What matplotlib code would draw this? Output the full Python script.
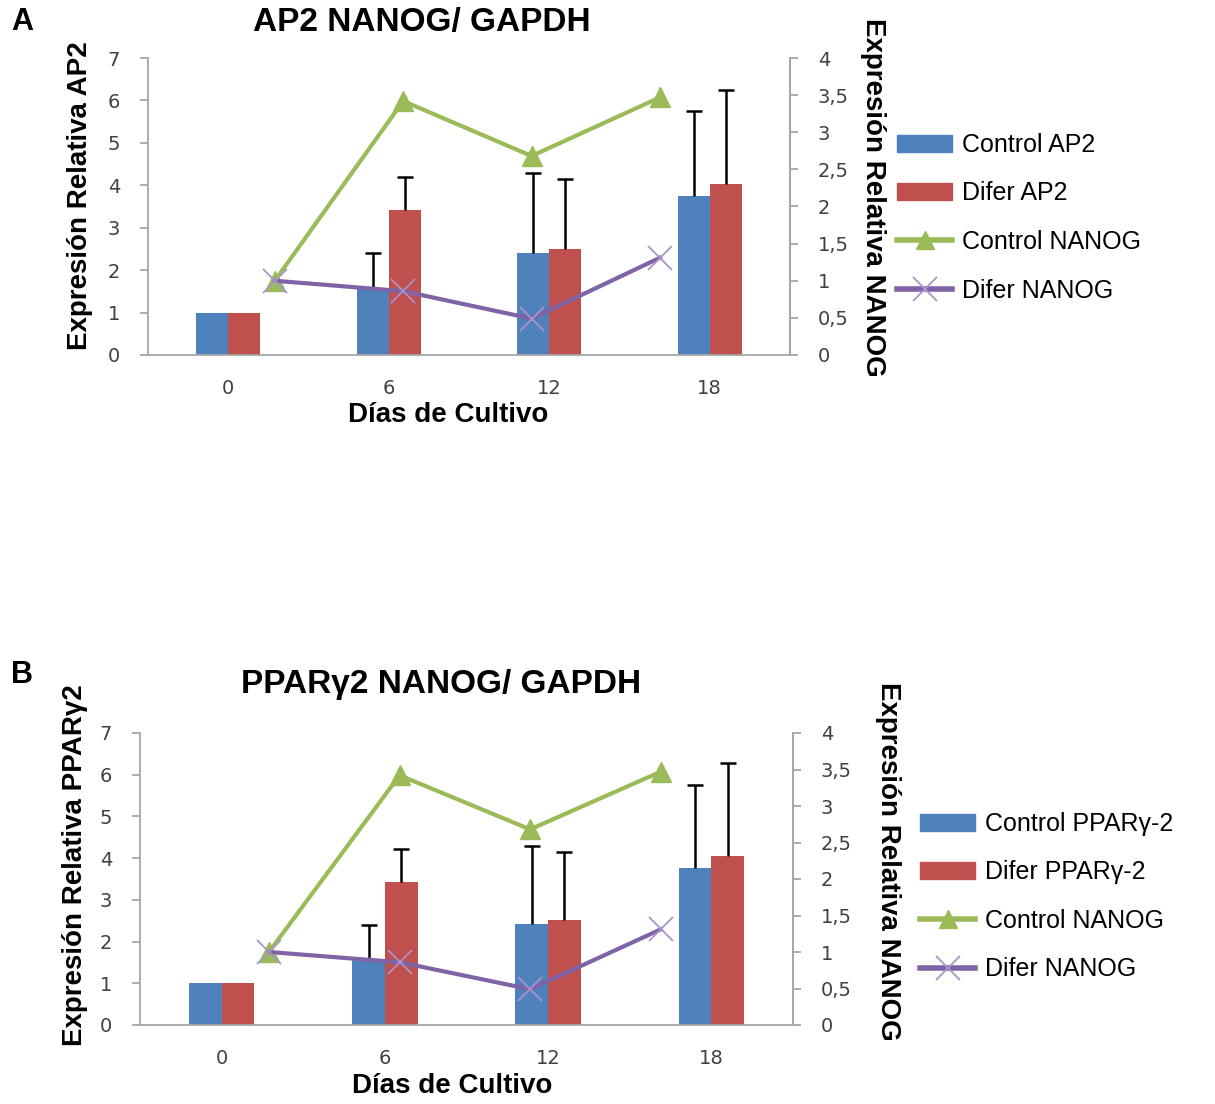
import matplotlib
matplotlib.use("Agg")
import matplotlib.pyplot as plt
import numpy as np
from matplotlib.patches import Patch
from matplotlib.lines import Line2D

# data
dias = ["0", "6", "12", "18"]

ctrl_ap2 = [1.0, 1.55, 2.4, 3.75]
ctrl_ap2_err = [0.0, 0.85, 1.88, 2.0]
difer_ap2 = [1.0, 3.42, 2.5, 4.03]
difer_ap2_err = [0.0, 0.78, 1.64, 2.22]

ctrl_ppar = [1.0, 1.55, 2.42, 3.76]
ctrl_ppar_err = [0.0, 0.85, 1.87, 1.99]
difer_ppar = [1.0, 3.44, 2.52, 4.05]
difer_ppar_err = [0.0, 0.78, 1.63, 2.23]

ctrl_nanog = [1.0, 3.42, 2.68, 3.47]
difer_nanog = [1.0, 0.86, 0.49, 1.31]

blue = "#4f81bd"
red = "#c0504d"
green = "#9bbb59"
purple = "#7f63a6"
xpurple = "#a995cc"
spine_col = "#a6a6a6"
tick_col = "#404040"

plt.rcParams["font.family"] = ["Liberation Sans", "DejaVu Sans"]

fig = plt.figure(figsize=(12.15, 11.04), dpi=100)


def upper_err(ax, xs, vals, errs):
    # only the upper half of the error bar, cap on top
    xs = np.asarray(xs)
    vals = np.asarray(vals)
    errs = np.asarray(errs)
    keep = errs > 0
    ax.vlines(xs[keep], vals[keep], vals[keep] + errs[keep], color="black",
              lw=1.8, zorder=3)
    ax.plot(xs[keep], vals[keep] + errs[keep], ls="none", marker="_", ms=12,
            mew=1.8, color="black", zorder=3)


def draw_panel(rect, c_vals, c_err, d_vals, d_err, left_lab, legend_names,
               legend_xy, lab_coords):
    ax = fig.add_axes(rect)
    x = np.arange(len(dias))
    w = 0.2
    ax.bar(x - w / 2, c_vals, w, color=blue, zorder=2)
    ax.bar(x + w / 2, d_vals, w, color=red, zorder=2)
    upper_err(ax, x - w / 2, c_vals, c_err)
    upper_err(ax, x + w / 2, d_vals, d_err)
    ax.set_xlim(-0.5, 3.5)
    ax.set_ylim(0, 7)
    ax.set_yticks(range(8))
    ax.set_xticks(x)
    ax.set_xticklabels(dias)

    ax.spines["top"].set_visible(False)
    for s in ["left", "bottom", "right"]:
        ax.spines[s].set_color(spine_col)
        ax.spines[s].set_linewidth(1.3)
    ax.tick_params(axis="y", length=6, width=1.3, color=spine_col, pad=14,
                   labelsize=14, labelcolor=tick_col, direction="out")
    ax.tick_params(axis="x", length=0, pad=17, labelsize=14, labelcolor=tick_col)
    for t in ax.get_xticklabels() + ax.get_yticklabels():
        t.set_family("DejaVu Sans")

    ax2 = ax.twinx()
    ax2.set_ylim(0, 4)
    ax2.set_yticks([0, 0.5, 1, 1.5, 2, 2.5, 3, 3.5, 4])
    ax2.set_yticklabels(["0", "0,5", "1", "1,5", "2", "2,5", "3", "3,5", "4"],
                        family="DejaVu Sans")
    for s in ["top", "left", "bottom"]:
        ax2.spines[s].set_visible(False)
    ax2.spines["right"].set_color(spine_col)
    ax2.spines["right"].set_linewidth(1.3)
    ax2.tick_params(axis="y", length=6, width=1.3, color=spine_col, pad=14,
                    labelsize=14, labelcolor=tick_col, direction="out")

    # lines sit on their own spacing, shifted against the bar groups
    line_x = np.arange(4) * 0.8 + 0.29
    ax2.plot(line_x, ctrl_nanog, color=green, lw=3, marker="^", ms=14,
             mec=green, zorder=4)
    ax2.plot(line_x, difer_nanog, color=purple, lw=3, marker="x", ms=17,
             mec=xpurple, mew=1.3, zorder=4)

    ax.set_xlabel("Días de Cultivo", fontsize=20, fontweight="bold",
                  va="center", ha="center")
    ax.xaxis.set_label_coords(*lab_coords[0])
    ax.set_ylabel(left_lab, fontsize=20, fontweight="bold", va="center",
                  ha="center")
    ax.yaxis.set_label_coords(*lab_coords[1])
    ax2.set_ylabel("Expresión Relativa NANOG", fontsize=20, fontweight="bold",
                   rotation=270, va="center", ha="center")
    ax2.yaxis.set_label_coords(*lab_coords[2])

    handles = [
        Patch(color=blue),
        Patch(color=red),
        Line2D([], [], color=green, lw=4, marker="^", ms=13, mec=green),
        Line2D([], [], color=purple, lw=4, marker="x", ms=17, mec=xpurple, mew=1.3),
    ]
    fig.legend(handles, legend_names, loc="upper left", bbox_to_anchor=legend_xy,
               frameon=False, fontsize=18, handlelength=2.2, handleheight=0.65,
               handletextpad=0.4, labelspacing=0.98, borderpad=0,
               borderaxespad=0, numpoints=1)
    return ax


# panel A
draw_panel([148 / 1215, 1 - 355 / 1104, 642 / 1215, 297 / 1104],
           ctrl_ap2, ctrl_ap2_err, difer_ap2, difer_ap2_err,
           "Expresión Relativa AP2",
           ["Control AP2", "Difer AP2", "Control NANOG", "Difer NANOG"],
           (897 / 1215, 1 - 133 / 1104),
           [(0.467, -0.202), (-0.106, 0.535), (1.129, 0.532)])
fig.text(422 / 1215, 1 - 22 / 1104, "AP2 NANOG/ GAPDH", fontsize=24,
         fontweight="bold", ha="center", va="center")
fig.text(22 / 1215, 1 - 22 / 1104, "A", fontsize=22, fontweight="bold",
         ha="center", va="center")

# panel B
draw_panel([140 / 1215, 1 - 1025 / 1104, 653 / 1215, 292 / 1104],
           ctrl_ppar, ctrl_ppar_err, difer_ppar, difer_ppar_err,
           "Expresión Relativa PPARγ2",
           ["Control PPARγ-2", "Difer PPARγ-2", "Control NANOG", "Difer NANOG"],
           (920 / 1215, 1 - 812 / 1104),
           [(0.478, -0.209), (-0.0995, 0.548), (1.145, 0.562)])
fig.text(441 / 1215, 1 - 684 / 1104, "PPARγ2 NANOG/ GAPDH", fontsize=24,
         fontweight="bold", ha="center", va="center")
fig.text(22 / 1215, 1 - 675 / 1104, "B", fontsize=22, fontweight="bold",
         ha="center", va="center")

fig.savefig("out.png", dpi=100)
